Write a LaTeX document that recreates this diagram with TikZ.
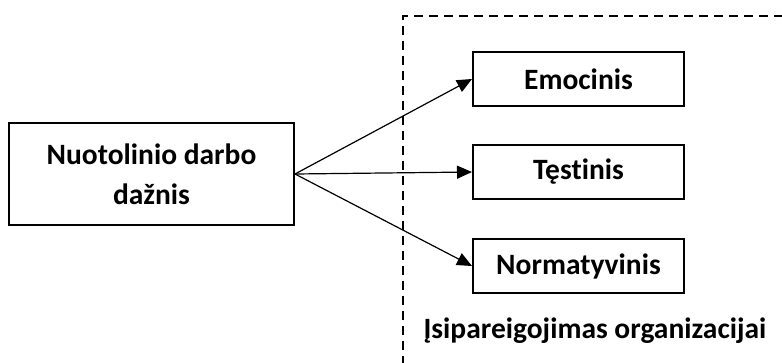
\documentclass[tikz,border=0pt]{standalone}
\usepackage{fontspec}
\setmainfont{Carlito}[Ligatures=NoCommon]
\usetikzlibrary{arrows.meta}

\tikzset{
  txt/.style={font=\fontsize{29.5}{40}\selectfont\bfseries},
  box/.style={txt, draw, line width=2pt, inner sep=0pt, align=center},
  bigbox/.style={box, minimum width=285pt, minimum height=102pt},
  smallbox/.style={box, minimum width=211pt, minimum height=54pt},
  arr/.style={line width=1.2pt, -{Triangle[length=15pt, width=13pt]}},
  frame/.style={line width=2.5pt, dash pattern=on 9pt off 6pt}
}

\begin{document}
\begin{tikzpicture}[x=1pt, y=-1pt]
  \useasboundingbox (0,0) rectangle (782,362);
  \clip (0,0) rectangle (782,362);

  % dashed frame of the commitment group
  \draw[frame] (403,380) -- (403,16) -- (800,16);

  % source and the three commitment types
  \node[bigbox] (src) at (151.5,174) {Nuotolinio darbo\\dažnis};
  \node[smallbox] (emo) at (578.5,79) {Emocinis};
  \node[smallbox] (tes) at (578.5,172) {Tęstinis};
  \node[smallbox] (nor) at (578.5,266) {Normatyvinis};

  % group caption
  \node[txt, anchor=base] (cap) at (595,338) {Įsipareigojimas organizacijai};

  % influence arrows
  \draw[arr] (src.east) -- (emo.west);
  \draw[arr] (src.east) -- (tes.west);
  \draw[arr] (src.east) -- (nor.west);
\end{tikzpicture}
\end{document}
